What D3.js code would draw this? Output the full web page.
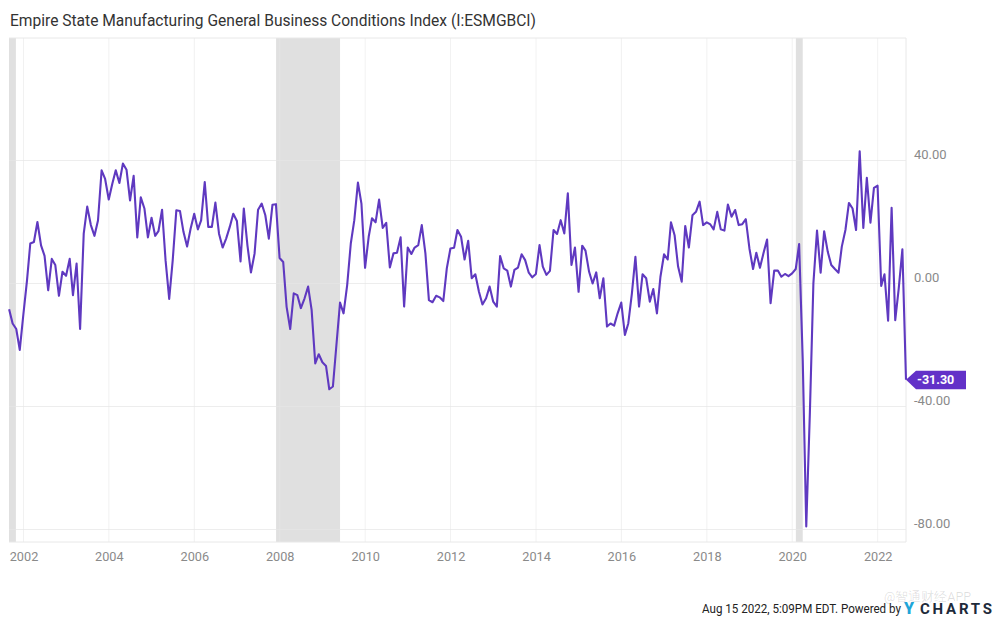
<!DOCTYPE html>
<html><head><meta charset="utf-8">
<script src="https://cdn.jsdelivr.net/npm/d3@7"></script>
<style>html,body{margin:0;padding:0;background:#fff}svg{display:block}text{font-family:Roboto,sans-serif}</style>
</head><body><svg id="c" width="1000" height="620"></svg>
<script>
const chartTitle="Empire State Manufacturing General Business Conditions Index (I:ESMGBCI)";
const footer="Aug 15 2022, 5:09PM EDT. Powered by";
const firstMonth="2001-08";
const values=[-8.4,-13,-14.8,-21.6,-10,1,13,13.5,20,12.4,9,-2.2,8,6,-4,3.8,2.5,8,-3.8,6.5,-14.8,16.2,25,19,15.5,20.5,36.8,34,27.3,32.5,36.8,32.7,39,37,27,35,15,28,24.4,15,21.4,15.5,17,24,7.5,-5,7.5,23.8,23.6,16.8,12,17.8,22.7,17.6,20.5,33,18.4,18.4,26.3,16.2,11.7,14.6,18.4,22.7,20.3,7.2,24.4,12.4,3.6,9.7,24,26,22.2,14.6,25.6,25.8,8.3,7,-7.6,-14.8,-3.2,-3.8,-8,-4.9,-1,-8.6,-26,-23,-25.6,-26.8,-34.4,-33.5,-20,
-6.2,-9.7,-0.5,13,20.6,32.8,26,5.1,15.2,21.2,19.9,27.3,18.1,19.7,5.2,9.8,10,15,-7.5,11.7,9.6,11.7,12.5,19,9.8,-5.4,-6.1,-4,-4.5,-5.7,4.9,11.4,11.6,17.4,15.2,7.8,13.9,1.7,3,-2.7,-6.8,-4.8,-1,-5.9,-7.5,8.9,4.9,4.2,-1,4.4,5.2,9.5,7.6,3.5,2,3.1,12.5,5.5,2.8,4.1,17.4,16.1,20.6,16.3,29.3,6,11.7,-2.7,12.3,10.7,3.8,0,3.6,-4.8,1.7,-14,-13,-13.7,-9.7,-6.2,-16.7,-13,-3.2,8.7,-7.5,
3,1.7,-5.9,-1.8,-9.7,2.2,9.5,7.8,19.9,15.7,5.5,0.6,18.7,11.7,22.2,23.3,26.6,19,19.9,19.2,17.6,23.3,17.6,17.2,25.7,21.7,23.9,19,19.3,20.9,11.4,4.7,10,5.1,9.8,14.3,-6.4,4.2,4.2,2.2,3.1,2.4,3.3,4.7,12.8,-25,-79,-42,0,17.2,3.5,17,10.3,6,4.7,3.5,12,17.4,26.2,24.4,17.4,43,18.1,34.4,19.8,31.1,31.8,-0.8,3,-12.1,24.6,-11.9,-1.6,11.1,-31.3];
const lastLabel="-31.30";
const yTicks=[40,0,-40,-80];
const yearTicks=[2002,2004,2006,2008,2010,2012,2014,2016,2018,2020,2022];
const recessions=[["2001-03-01","2001-10-28"],["2007-12-01","2009-05-31"],["2020-02-01","2020-03-31"]];

const svg=d3.select("#c");
const L=9,R=906,T=38,B=542;
const x=d3.scaleUtc().domain([new Date(Date.UTC(2002,0,1)),new Date(Date.UTC(2022,0,1))]).range([23.5,877.7]);
const y=d3.scaleLinear().domain([-80,40]).range([529.5,160.5]);
const [fy,fm]=firstMonth.split("-").map(Number);
const pts=values.map((v,i)=>({d:new Date(Date.UTC(fy,fm+i,0)),v}));

svg.append("text").attr("x",10).attr("y",26).attr("font-size",16).attr("fill","#333")
 .attr("textLength",526).attr("lengthAdjust","spacingAndGlyphs").text(chartTitle);

svg.append("defs").append("clipPath").attr("id","pl").append("rect").attr("x",L).attr("y",T).attr("width",R-L).attr("height",B-T);
const plot=svg.append("g").attr("clip-path","url(#pl)");
plot.selectAll(".rec").data(recessions).join("rect").attr("class","rec")
 .attr("x",d=>x(new Date(d[0]))).attr("width",d=>x(new Date(d[1]))-x(new Date(d[0])))
 .attr("y",T).attr("height",B-T).attr("fill","#e0e0e0");
plot.selectAll(".gx").data(yearTicks).join("line").attr("class","gx")
 .attr("x1",d=>x(new Date(Date.UTC(d,0,1)))).attr("x2",d=>x(new Date(Date.UTC(d,0,1))))
 .attr("y1",T).attr("y2",B).attr("stroke","#e6e6e6").attr("stroke-opacity",.55);
plot.selectAll(".gy").data(yTicks).join("line").attr("class","gy")
 .attr("x1",L).attr("x2",R).attr("y1",d=>y(d)).attr("y2",d=>y(d)).attr("stroke","#e6e6e6").attr("stroke-opacity",.7);
svg.append("path").attr("d",`M${L},${T}H${R}V${B}H${L}`).attr("fill","none").attr("stroke","#e8e8e8");

const line=d3.line().x(d=>x(d.d)).y(d=>y(d.v));
svg.append("path").datum(pts).attr("d",line).attr("fill","none").attr("stroke","#5f39c0").attr("stroke-width",2.1).attr("stroke-linejoin","round");

svg.selectAll(".yl").data(yTicks).join("text").attr("class","yl").attr("x",914).attr("y",d=>y(d)-1.8)
 .attr("font-size",13).attr("fill","#8a8a8a").text(d=>d.toFixed(2));
svg.selectAll(".xl").data(yearTicks).join("text").attr("class","xl").attr("x",d=>x(new Date(Date.UTC(d,0,1)))+0.5).attr("y",561)
 .attr("text-anchor","middle").attr("font-size",12.7).attr("fill","#8a8a8a").text(d=>d);

const last=pts[pts.length-1];
const tx=x(last.d),ty=y(last.v);
svg.append("path").attr("d",`M${tx},${ty}L${tx+10},${ty-9}H966V${ty+9.5}H${tx+10}Z`).attr("fill","#6231c8");
svg.append("text").attr("x",917).attr("y",ty+4.5).attr("font-size",12.5).attr("font-weight",700).attr("fill","#fff").text(lastLabel);

svg.append("text").attr("x",884).attr("y",601).attr("font-size",12.5).attr("fill","#000").attr("fill-opacity",.12).attr("font-family","Noto Sans CJK SC").text("@智通财经APP");
svg.append("text").attr("x",702).attr("y",613).attr("font-size",12).attr("fill","#222")
 .attr("textLength",199).attr("lengthAdjust","spacingAndGlyphs").text(footer);
svg.append("text").attr("x",904).attr("y",614).attr("font-size",16).attr("font-weight",900).attr("fill","#1fa5d8").text("Y");
svg.append("text").attr("x",920).attr("y",614).attr("font-size",15).attr("font-weight",700).attr("fill","#1d2a3a")
 .attr("textLength",72).text("CHARTS");
</script></body></html>
